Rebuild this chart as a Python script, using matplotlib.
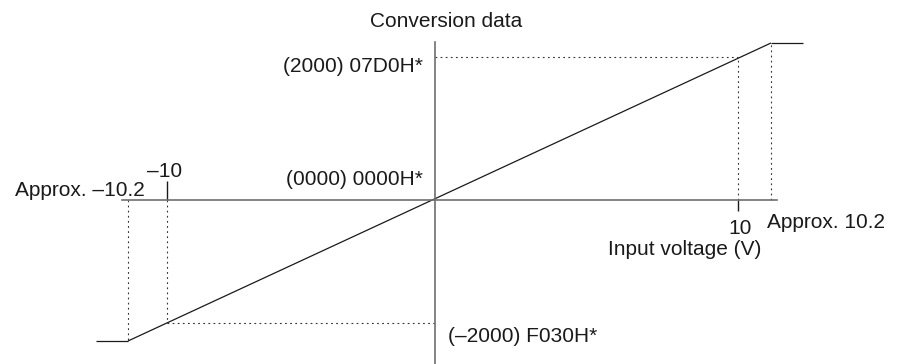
import numpy as np
import matplotlib
matplotlib.use("Agg")
import matplotlib.pyplot as plt

# ---- data ----
voltage_knots = [-10.2, -10.0, 0.0, 10.0, 10.2]          # input voltage (V)
conversion_knots = [-2040, -2000, 0, 2000, 2040]         # conversion data
sat_left_x = -11.2
sat_right_x = 11.2
axis_x_extent = (-10.4, 10.4)
axis_y_extent = (-2600, 2055)

title_y = "Conversion data"
title_x = "Input voltage (V)"
label_pos = "(2000) 07D0H*"
label_zero = "(0000) 0000H*"
label_neg = "(\u20132000) F030H*"
label_m10 = "\u201310"
label_m102 = "Approx. \u201310.2"
label_p10 = "10"
label_p102 = "Approx. 10.2"

# ---- schematic (non-uniform) scales ----
W, H = 899, 364
px_x = [128, 167, 435, 738, 771]
px_y_top = [341, 323, 200, 57, 43]

def make_scale(knots, pix, ext_slope):
    k = np.array([knots[0] - 1000.0] + list(knots) + [knots[-1] + 1000.0])
    p = np.array([pix[0] - 1000.0 * ext_slope] + list(pix) + [pix[-1] + 1000.0 * ext_slope])
    def fwd(v):
        return np.interp(v, k, p)
    def inv(v):
        return np.interp(v, p, k)
    return fwd, inv

fx, ix = make_scale(voltage_knots, px_x, 32.0)
fy, iy = make_scale(conversion_knots, [H - t for t in px_y_top], 0.07)

plt.rcParams['font.family'] = ['Liberation Sans', 'DejaVu Sans']

fig = plt.figure(figsize=(W / 100, H / 100), dpi=100)
ax = fig.add_axes([0, 0, 1, 1])
ax.set_xscale('function', functions=(fx, ix))
ax.set_yscale('function', functions=(fy, iy))
ax.set_xlim(float(ix(0)), float(ix(W)))
ax.set_ylim(float(iy(0)), float(iy(H)))
ax.set_xticks([])
ax.set_yticks([])

axis_col = '#6e6e6e'
for s in ['top', 'right']:
    ax.spines[s].set_visible(False)
ax.spines['left'].set_position(('data', 0))
ax.spines['bottom'].set_position(('data', 0))
ax.spines['left'].set_bounds(*axis_y_extent)
ax.spines['bottom'].set_bounds(*axis_x_extent)
for s in ['left', 'bottom']:
    ax.spines[s].set_color(axis_col)
    ax.spines[s].set_linewidth(1.2)

# transfer characteristic
ln_kw = dict(color='#1a1a1a', lw=0.9, solid_capstyle='butt')
ax.plot([voltage_knots[0], voltage_knots[-1]], [conversion_knots[0], conversion_knots[-1]], **ln_kw)
ax.plot([sat_left_x, voltage_knots[0]], [conversion_knots[0], conversion_knots[0]], **ln_kw)
ax.plot([voltage_knots[-1], sat_right_x], [conversion_knots[-1], conversion_knots[-1]], **ln_kw)

# dotted guides
dot_kw = dict(color='#333333', lw=0.8, linestyle=(0, (1.6, 3.0)))
for v, c in zip(voltage_knots, conversion_knots):
    if v != 0:
        ax.plot([v, v], [0, c], **dot_kw)
ax.plot([0, voltage_knots[3]], [conversion_knots[3]] * 2, **dot_kw)
ax.plot([voltage_knots[1], 0], [conversion_knots[1]] * 2, **dot_kw)

# ticks at +-10
ax.plot([voltage_knots[1]], [0], marker=2, markersize=13.5, mew=1.0, color='#1a1a1a')
ax.plot([voltage_knots[3]], [0], marker=3, markersize=8, mew=1.0, color='#1a1a1a')

# text
fs = 15
tk = dict(fontsize=fs, color='#1a1a1a', textcoords='offset pixels', va='baseline')
ax.annotate(title_y, xy=(0, axis_y_extent[1]), xytext=(11, 15), ha='center', **tk)
ax.annotate(label_pos, xy=(0, conversion_knots[3]), xytext=(-12, -15), ha='right', **tk)
ax.annotate(label_zero, xy=(0, 0), xytext=(-12, 15), ha='right', **tk)
ax.annotate(label_neg, xy=(0, conversion_knots[1]), xytext=(13, -19), ha='left', **tk)
ax.annotate(label_m10, xy=(voltage_knots[1], 0), xytext=(-2, 23), ha='center', **tk)
ax.annotate(label_m102, xy=(voltage_knots[0], 0), xytext=(17, 4), ha='right', **tk)
ax.annotate(label_p10, xy=(voltage_knots[3], 0), xytext=(2, -34), ha='center', **tk)
ax.annotate(label_p102, xy=(voltage_knots[4], 0), xytext=(-4, -28), ha='left', **tk)
ax.annotate(title_x, xy=(voltage_knots[3], 0), xytext=(23, -55), ha='right', **tk)

fig.savefig('out.png', dpi=100)
